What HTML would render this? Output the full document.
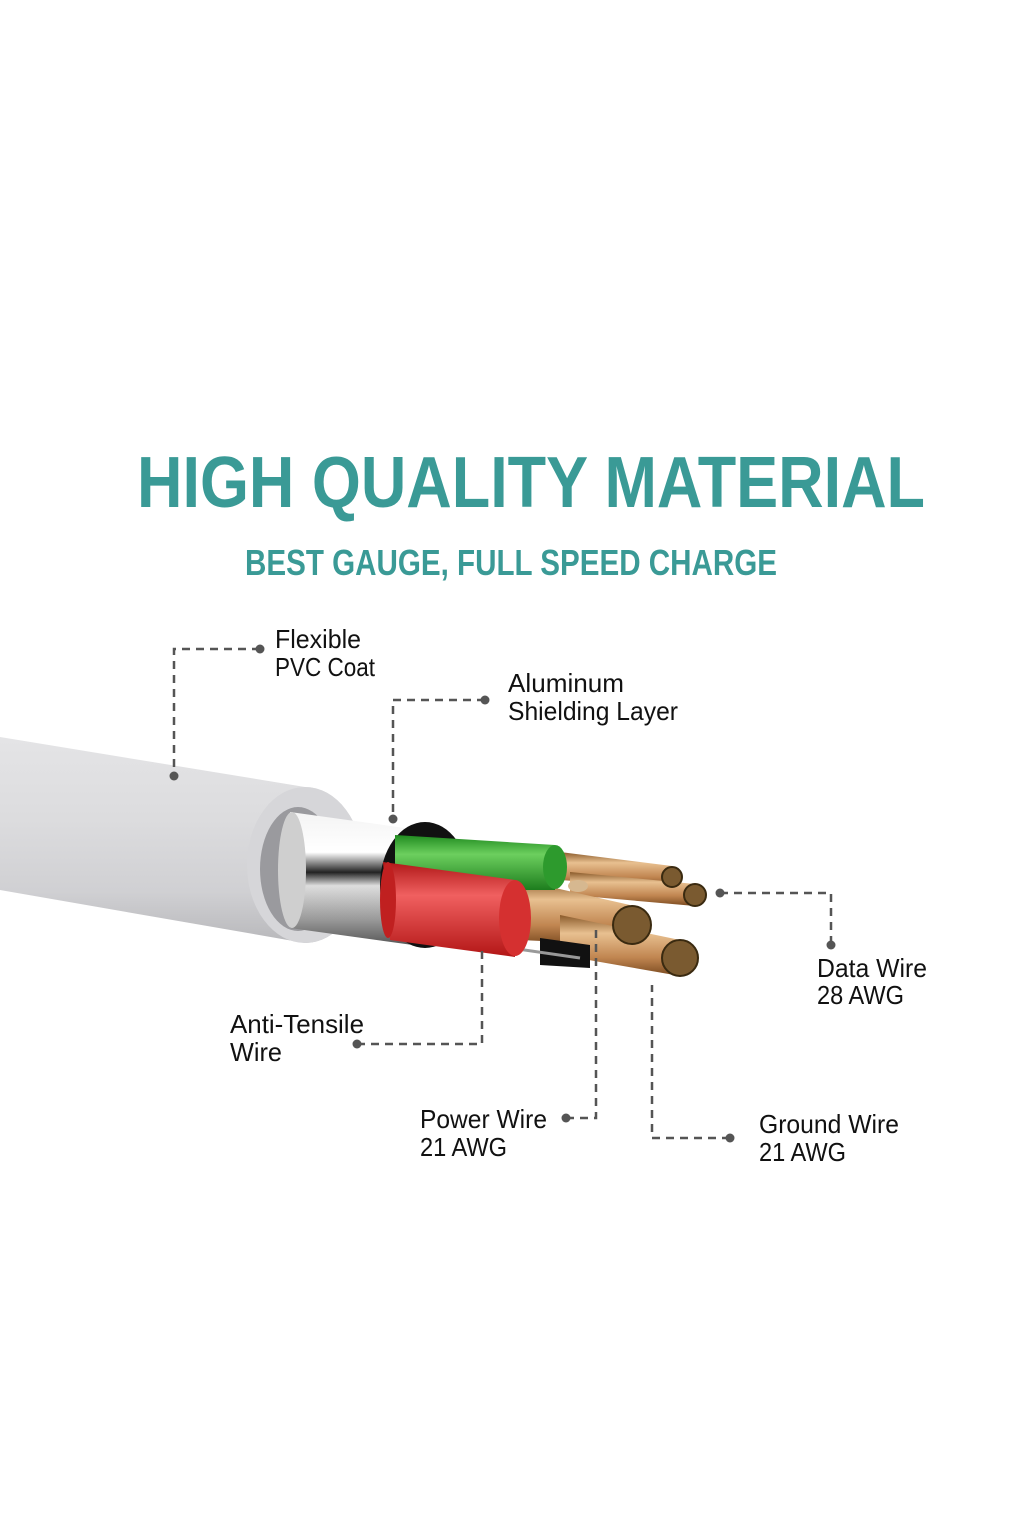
<!DOCTYPE html>
<html><head><meta charset="utf-8"><style>
html,body{margin:0;padding:0;background:#fff;}
svg{display:block;}
text{font-family:"Liberation Sans",sans-serif;}
</style></head><body>
<svg width="1024" height="1536" viewBox="0 0 1024 1536">
<defs>
<linearGradient id="jk" x1="0" y1="0" x2="0" y2="1">
<stop offset="0" stop-color="#e4e4e6"/><stop offset="0.4" stop-color="#dcdcde"/><stop offset="0.75" stop-color="#d0d0d3"/><stop offset="1" stop-color="#b8b8bb"/>
</linearGradient>
<linearGradient id="sv" x1="0" y1="0" x2="0" y2="1">
<stop offset="0" stop-color="#f4f4f4"/><stop offset="0.3" stop-color="#ffffff"/><stop offset="0.45" stop-color="#222"/><stop offset="0.55" stop-color="#ddd"/><stop offset="0.8" stop-color="#9a9a9a"/><stop offset="1" stop-color="#555"/>
</linearGradient>
<linearGradient id="gr" x1="0" y1="0" x2="0" y2="1">
<stop offset="0" stop-color="#1f8a1f"/><stop offset="0.35" stop-color="#6ccf5e"/><stop offset="1" stop-color="#1d7d1d"/>
</linearGradient>
<linearGradient id="rd" x1="0" y1="0" x2="0" y2="1">
<stop offset="0" stop-color="#b01818"/><stop offset="0.35" stop-color="#f06060"/><stop offset="1" stop-color="#b31616"/>
</linearGradient>
<linearGradient id="cu" x1="0" y1="0" x2="0" y2="1">
<stop offset="0" stop-color="#8a5a2a"/><stop offset="0.3" stop-color="#e8c090"/><stop offset="0.7" stop-color="#c08550"/><stop offset="1" stop-color="#7a4a20"/>
</linearGradient>
</defs>

<text x="137" y="507" font-size="72" font-weight="bold" fill="#3a9a96" textLength="788" lengthAdjust="spacingAndGlyphs">HIGH QUALITY MATERIAL</text>
<text x="245" y="575" font-size="36" font-weight="bold" fill="#3a9a96" textLength="532" lengthAdjust="spacingAndGlyphs">BEST GAUGE, FULL SPEED CHARGE</text>

<!-- jacket -->
<path d="M0,737 L305,787 A58,78 0 0 1 305,943 L0,890 Z" fill="url(#jk)"/>
<ellipse cx="305" cy="865" rx="58" ry="78" fill="#d6d6d9"/>
<ellipse cx="298" cy="869" rx="38" ry="62" fill="#9a9a9e"/>
<!-- silver shield -->
<path d="M290,812 L405,828 L420,946 L290,928 Z" fill="url(#sv)"/>
<ellipse cx="292" cy="870" rx="14" ry="58" fill="#cfcfcf"/>
<ellipse cx="425" cy="885" rx="45" ry="63" fill="#111"/>
<!-- wires -->
<g fill="url(#cu)">
<path d="M560,852 L672,866 L672,888 L560,880 Z"/>
<path d="M570,872 L695,884 L695,906 L570,895 Z"/>
<path d="M520,880 L630,905 L630,945 L520,940 Z"/>
<path d="M560,915 L680,940 L680,976 L560,955 Z"/>
</g>
<path d="M540,938 L590,945 L590,968 L540,965 Z" fill="#111"/>
<line x1="420" y1="935" x2="580" y2="958" stroke="#999" stroke-width="3"/>
<path d="M395,835 L555,845 L555,890 L395,890 Z" fill="url(#gr)"/>
<ellipse cx="555" cy="867" rx="12" ry="22" fill="#2d9a2d"/>
<path d="M383,862 L515,880 L515,957 L390,940 Z" fill="url(#rd)"/>
<ellipse cx="515" cy="918" rx="16" ry="38" fill="#d53030"/>
<ellipse cx="388" cy="900" rx="8" ry="38" fill="#c02020"/>
<g fill="#7a5a30" stroke="#3a2a10" stroke-width="2">
<circle cx="672" cy="877" r="10"/>
<circle cx="695" cy="895" r="11"/>
<circle cx="632" cy="925" r="19"/>
<circle cx="680" cy="958" r="18"/>
</g>
<ellipse cx="578" cy="886" rx="10" ry="6" fill="#d6b890"/>

<!-- leaders -->
<g stroke="#555" stroke-width="2.5" fill="none" stroke-dasharray="8,6">
<path d="M260,649 H174 V776"/>
<path d="M485,700 H393 V820"/>
<path d="M720,893 H831 V945"/>
<path d="M357,1044 H482 V945"/>
<path d="M566,1118 H596 V925"/>
<path d="M730,1138 H652 V985"/>
</g>
<g fill="#555">
<circle cx="260" cy="649" r="4.5"/><circle cx="174" cy="776" r="4.5"/>
<circle cx="485" cy="700" r="4.5"/><circle cx="393" cy="819" r="4.5"/>
<circle cx="720" cy="893" r="4.5"/><circle cx="831" cy="945" r="4.5"/>
<circle cx="357" cy="1044" r="4.5"/>
<circle cx="566" cy="1118" r="4.5"/>
<circle cx="730" cy="1138" r="4.5"/>
</g>

<g font-size="26" fill="#111">
<text x="275" y="648" textLength="86" lengthAdjust="spacingAndGlyphs">Flexible</text>
<text x="275" y="676" textLength="100" lengthAdjust="spacingAndGlyphs">PVC Coat</text>
<text x="508" y="692" textLength="116" lengthAdjust="spacingAndGlyphs">Aluminum</text>
<text x="508" y="720" textLength="170" lengthAdjust="spacingAndGlyphs">Shielding Layer</text>
<text x="817" y="977" textLength="110" lengthAdjust="spacingAndGlyphs">Data Wire</text>
<text x="817" y="1004" textLength="87" lengthAdjust="spacingAndGlyphs">28 AWG</text>
<text x="230" y="1033" textLength="134" lengthAdjust="spacingAndGlyphs">Anti-Tensile</text>
<text x="230" y="1061" textLength="52" lengthAdjust="spacingAndGlyphs">Wire</text>
<text x="420" y="1128" textLength="127" lengthAdjust="spacingAndGlyphs">Power Wire</text>
<text x="420" y="1156" textLength="87" lengthAdjust="spacingAndGlyphs">21 AWG</text>
<text x="759" y="1133" textLength="140" lengthAdjust="spacingAndGlyphs">Ground Wire</text>
<text x="759" y="1161" textLength="87" lengthAdjust="spacingAndGlyphs">21 AWG</text>
</g>
</svg>
</body></html>
